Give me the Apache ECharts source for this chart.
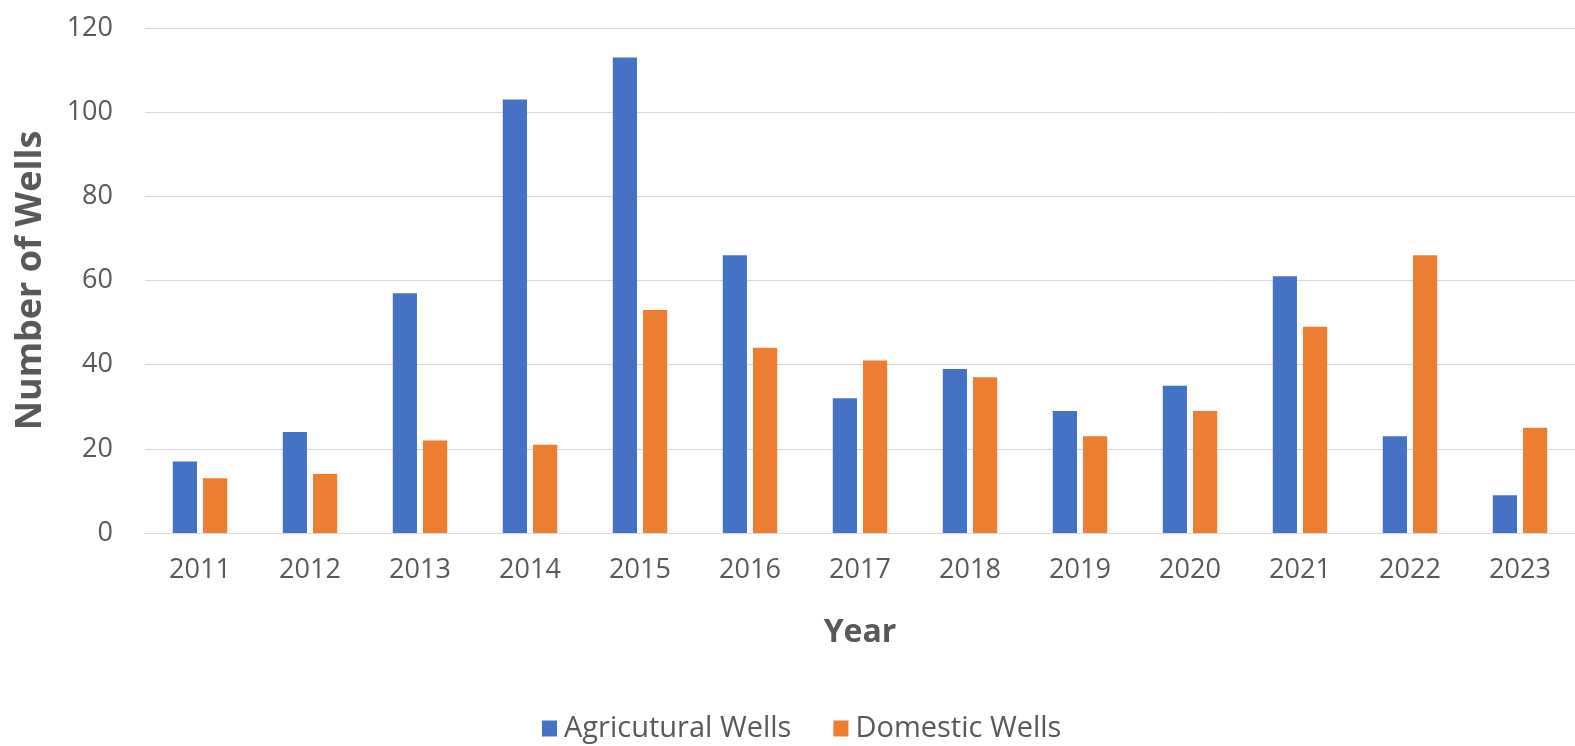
<!DOCTYPE html>
<html>
<head>
<meta charset="utf-8">
<script src="https://cdn.jsdelivr.net/npm/echarts@6/dist/echarts.min.js"></script>
<style>
  html, body { margin: 0; padding: 0; background: #ffffff; }
  #chart { width: 1575px; height: 746px; }
</style>
</head>
<body>
<div id="chart"></div>
<script>
const years = ['2011','2012','2013','2014','2015','2016','2017','2018','2019','2020','2021','2022','2023'];
const agriculturalWells = [17, 24, 57, 103, 113, 66, 32, 39, 29, 35, 61, 23, 9];
const domesticWells = [13, 14, 22, 21, 53, 44, 41, 37, 23, 29, 49, 66, 25];
const yTicks = [0, 20, 40, 60, 80, 100, 120];

const FONT = '"Open Sans", "Noto Sans", sans-serif';
const TXT = '#595959';

const chart = echarts.init(document.getElementById('chart'), null, { renderer: 'canvas' });
chart.setOption({
  animation: false,
  backgroundColor: '#ffffff',
  textStyle: { fontFamily: FONT },
  grid: { left: 145, right: 0, top: 28, bottom: 213, containLabel: false },
  legend: {
    data: ['Agricutural Wells', 'Domestic Wells'],
    left: 537,
    top: 709,
    icon: 'rect',
    itemWidth: 15,
    itemHeight: 16,
    itemGap: 42,
    textStyle: { color: TXT, fontSize: 29, fontFamily: FONT, padding: [0, 0, 0, 2] }
  },
  xAxis: {
    type: 'category',
    data: years,
    name: 'Year',
    nameLocation: 'middle',
    nameGap: 84,
    nameTextStyle: { color: TXT, fontSize: 32, fontWeight: 'bold', fontFamily: FONT },
    axisLine: { show: true, lineStyle: { color: '#D9D9D9', width: 1 } },
    axisTick: { show: false },
    axisLabel: { color: TXT, fontSize: 27, margin: 24, fontFamily: FONT }
  },
  yAxis: {
    type: 'value',
    min: yTicks[0],
    max: yTicks[yTicks.length - 1],
    interval: 20,
    name: 'Number of Wells',
    nameLocation: 'middle',
    nameGap: 96,
    nameTextStyle: { color: TXT, fontSize: 36, fontWeight: 'bold', fontFamily: FONT },
    axisLine: { show: false },
    axisTick: { show: false },
    axisLabel: { color: TXT, fontSize: 27, margin: 32, fontFamily: FONT },
    splitLine: { show: true, lineStyle: { color: '#D9D9D9', width: 1 } }
  },
  series: [
    {
      name: 'Agricutural Wells',
      type: 'bar',
      data: agriculturalWells,
      barWidth: '22%',
      barGap: '25%',
      itemStyle: { color: '#4472C4' }
    },
    {
      name: 'Domestic Wells',
      type: 'bar',
      data: domesticWells,
      barWidth: '22%',
      barGap: '25%',
      itemStyle: { color: '#ED7D31' }
    }
  ]
});
</script>
</body>
</html>
